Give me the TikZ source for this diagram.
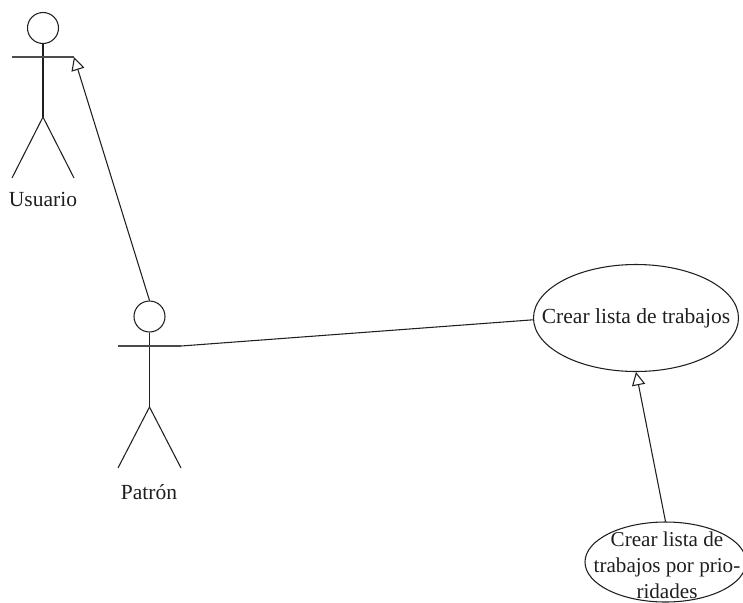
\documentclass[tikz,border=0pt]{standalone}
\usepackage{fontspec}
\setmainfont{Liberation Serif}
\usetikzlibrary{arrows.meta,shapes.geometric}
\newdimen\pxu
\pxu=0.0264583cm
\definecolor{ink}{gray}{0.12}
\tikzset{
  ln/.style={line width=0.8pt,ink},
  armln/.style={line width=1.1pt,black!70},
  gen/.style={ln,-{Triangle[open,fill=white,length=10pt,width=10pt]}},
  lbl/.style={inner sep=0pt,text=ink,font=\fontsize{16.2}{20}\selectfont,align=center},
  lblsm/.style={lbl,font=\fontsize{15.9}{19.6}\selectfont},
  uc/.style={ellipse,draw,ln,inner sep=0pt},
  head/.style={circle,draw,ln,minimum size=31\pxu,inner sep=0pt}
}
\begin{document}
\begin{tikzpicture}[x=\pxu,y=-\pxu]
\useasboundingbox (0,0) rectangle (743,602);
% Usuario
\node[head] (h1) at (43,28) {};
\coordinate (arml1) at (12,57);
\coordinate (armr1) at (74,57);
\coordinate (hip1) at (43,117);
\coordinate (fl1) at (12,178);
\coordinate (fr1) at (74,178);
\draw[ln] (h1.south) -- (hip1);
\draw[armln] (arml1) -- (armr1);
\draw[ln] (fl1) -- (hip1) -- (fr1);
\node[lbl] (t1) at (43,199) {Usuario};
% Patron
\node[head] (h2) at (149.5,316.5) {};
\coordinate (hip2) at (149.5,407);
\coordinate (arml2) at (118,346);
\coordinate (armr2) at (181,346);
\coordinate (fl2) at (118,468);
\coordinate (fr2) at (181,468);
\draw[ln] (h2.south) -- (hip2);
\draw[armln] (arml2) -- (armr2);
\draw[ln] (fl2) -- (hip2) -- (fr2);
\node[lbl] (t2) at (149,492) {Patrón};
% Use cases
\node[uc,minimum width=205\pxu,minimum height=107\pxu] (u1) at (636,318) {};
\node[lbl] (t3) at (u1.center) {Crear lista de trabajos};
\node[uc,minimum width=161\pxu,minimum height=80\pxu] (u2) at (665.5,562) {};
\node[lblsm] (t4) at (667,565) {Crear lista de\\trabajos por prio-\\ridades};
% Connectors
\draw[ln] (armr2) -- (u1.181);
\draw[gen] (h2.north) -- (armr1);
\draw[gen] (u2.north) -- (u1.south);
\end{tikzpicture}
\end{document}
